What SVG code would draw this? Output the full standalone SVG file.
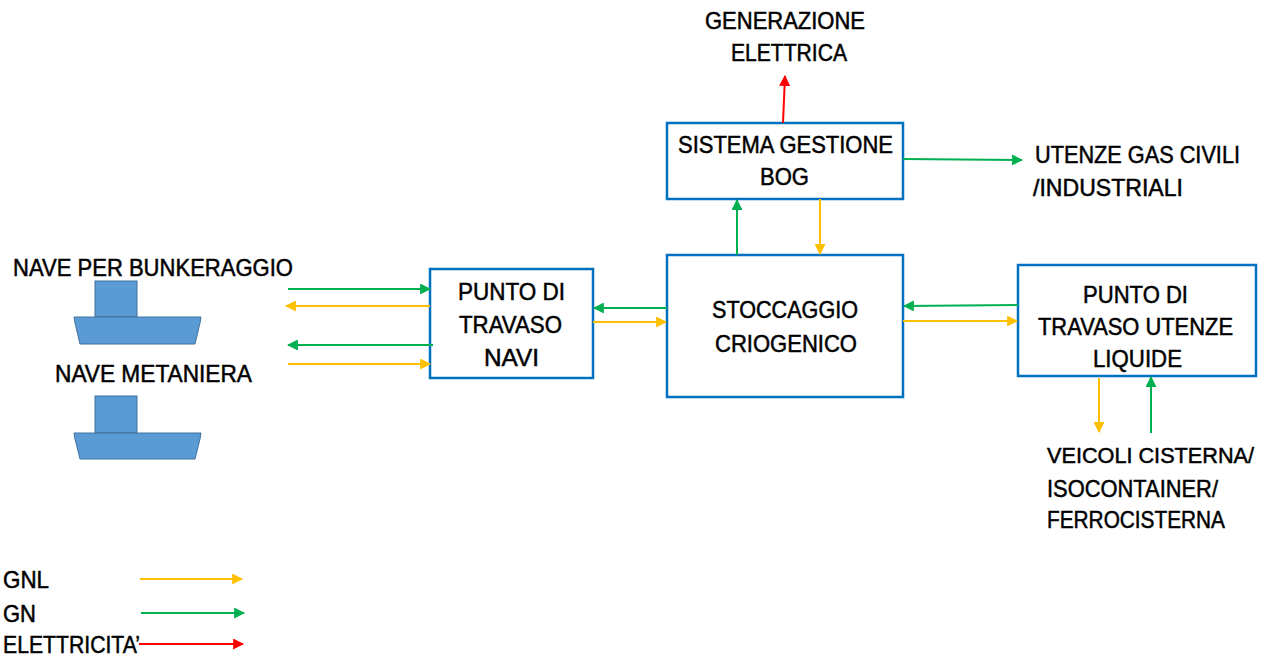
<svg xmlns="http://www.w3.org/2000/svg" width="1268" height="659" viewBox="0 0 1268 659">
<style>
.box{fill:#fff;stroke:#0070C0;stroke-width:2.5}
.t{font-family:"Liberation Sans",Arial,sans-serif;font-size:24px;fill:#000;stroke:#000;stroke-width:0.5}
.ship{fill:#5B9BD5;stroke:#41719C;stroke-width:1}
.y{stroke:#FFC000;stroke-width:2;fill:none;marker-end:url(#ay)}
.g{stroke:#00B050;stroke-width:2;fill:none;marker-end:url(#ag)}
.r{stroke:#FF0000;stroke-width:2;fill:none;marker-end:url(#ar)}
</style>
<defs>
<marker id="ay" viewBox="0 0 10 10" refX="9" refY="5" markerWidth="5.5" markerHeight="5.5" orient="auto" markerUnits="strokeWidth"><path d="M0,0 L10,5 L0,10 z" fill="#FFC000"/></marker>
<marker id="ag" viewBox="0 0 10 10" refX="9" refY="5" markerWidth="5.5" markerHeight="5.5" orient="auto" markerUnits="strokeWidth"><path d="M0,0 L10,5 L0,10 z" fill="#00B050"/></marker>
<marker id="ar" viewBox="0 0 10 10" refX="9" refY="5" markerWidth="5.5" markerHeight="5.5" orient="auto" markerUnits="strokeWidth"><path d="M0,0 L10,5 L0,10 z" fill="#FF0000"/></marker>
</defs>
<rect width="1268" height="659" fill="#fff"/>

<g id="generazione">
<text class="t" x="705" y="29" textLength="160" lengthAdjust="spacingAndGlyphs">GENERAZIONE</text>
<text class="t" x="731" y="61" textLength="116" lengthAdjust="spacingAndGlyphs">ELETTRICA</text>
</g>

<g id="bog">
<rect class="box" x="667" y="123" width="236" height="76"/>
<text class="t" x="678" y="153" textLength="215" lengthAdjust="spacingAndGlyphs">SISTEMA GESTIONE</text>
<text class="t" x="760" y="185" textLength="49" lengthAdjust="spacingAndGlyphs">BOG</text>
</g>

<g id="utenze-gas">
<text class="t" x="1035" y="163" textLength="205" lengthAdjust="spacingAndGlyphs">UTENZE GAS CIVILI</text>
<text class="t" x="1033" y="196" textLength="150" lengthAdjust="spacingAndGlyphs">/INDUSTRIALI</text>
</g>

<g id="travaso-navi">
<rect class="box" x="430" y="269" width="163" height="109"/>
<text class="t" x="458" y="300" textLength="107" lengthAdjust="spacingAndGlyphs">PUNTO DI</text>
<text class="t" x="459" y="333" textLength="103" lengthAdjust="spacingAndGlyphs">TRAVASO</text>
<text class="t" x="484" y="366" textLength="55" lengthAdjust="spacingAndGlyphs">NAVI</text>
</g>

<g id="stoccaggio">
<rect class="box" x="667" y="255" width="236" height="142"/>
<text class="t" x="712" y="318" textLength="146" lengthAdjust="spacingAndGlyphs">STOCCAGGIO</text>
<text class="t" x="715" y="352" textLength="142" lengthAdjust="spacingAndGlyphs">CRIOGENICO</text>
</g>

<g id="travaso-utenze">
<rect class="box" x="1018" y="265" width="238" height="111"/>
<text class="t" x="1083" y="303" textLength="105" lengthAdjust="spacingAndGlyphs">PUNTO DI</text>
<text class="t" x="1038" y="335" textLength="195" lengthAdjust="spacingAndGlyphs">TRAVASO UTENZE</text>
<text class="t" x="1093" y="367" textLength="89" lengthAdjust="spacingAndGlyphs">LIQUIDE</text>
</g>

<g id="veicoli">
<text class="t" x="1047" y="463" font-size="22" textLength="207" lengthAdjust="spacingAndGlyphs" style="font-size:22px">VEICOLI CISTERNA/</text>
<text class="t" x="1047" y="497" textLength="171" lengthAdjust="spacingAndGlyphs">ISOCONTAINER/</text>
<text class="t" x="1047" y="528" textLength="178" lengthAdjust="spacingAndGlyphs">FERROCISTERNA</text>
</g>

<g id="nave-bunkeraggio">
<text class="t" x="13" y="276" textLength="280" lengthAdjust="spacingAndGlyphs">NAVE PER BUNKERAGGIO</text>
<rect class="ship" x="95" y="281" width="42" height="36"/>
<path class="ship" d="M74,317 L201,317 L200,323 L195,344 L80,344 L75,323 Z"/>
</g>

<g id="nave-metaniera">
<text class="t" x="55" y="382" textLength="197" lengthAdjust="spacingAndGlyphs">NAVE METANIERA</text>
<rect class="ship" x="95" y="396" width="42" height="37"/>
<path class="ship" d="M74,433 L201,433 L200,439 L195,459 L80,459 L75,439 Z"/>
</g>

<g id="legend">
<text class="t" x="3" y="588" textLength="46" lengthAdjust="spacingAndGlyphs">GNL</text>
<text class="t" x="3" y="622" textLength="33" lengthAdjust="spacingAndGlyphs">GN</text>
<text class="t" x="3" y="653" textLength="137" lengthAdjust="spacingAndGlyphs">ELETTRICITA’</text>
</g>

<g id="connectors">
<line class="r" x1="783" y1="123" x2="785" y2="76"/>
<line class="g" x1="903" y1="159" x2="1022" y2="160"/>
<line class="g" x1="737" y1="255" x2="737" y2="200"/>
<line class="y" x1="820" y1="199" x2="820" y2="254"/>
<line class="g" x1="288" y1="289" x2="430" y2="289"/>
<line class="y" x1="430" y1="306" x2="286" y2="306"/>
<line class="g" x1="433" y1="345" x2="288" y2="345"/>
<line class="y" x1="288" y1="364" x2="430" y2="364"/>
<line class="g" x1="667" y1="308" x2="594" y2="308"/>
<line class="y" x1="593" y1="322" x2="666" y2="322"/>
<line class="g" x1="1018" y1="305" x2="904" y2="306"/>
<line class="y" x1="903" y1="321" x2="1017" y2="321"/>
<line class="y" x1="1099" y1="378" x2="1099" y2="432"/>
<line class="g" x1="1151" y1="433" x2="1151" y2="377"/>
<line class="y" x1="140" y1="579" x2="242" y2="579"/>
<line class="g" x1="141" y1="613" x2="244" y2="613"/>
<line class="r" x1="139" y1="644" x2="243" y2="644"/>
</g>
</svg>
